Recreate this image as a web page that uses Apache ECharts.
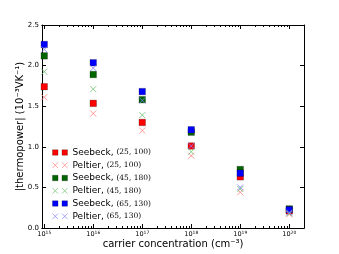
<!DOCTYPE html>
<html><head><meta charset="utf-8">
<script src="https://cdn.jsdelivr.net/npm/echarts@6/dist/echarts.min.js"></script>
<style>html,body{margin:0;padding:0;background:#fff}#c{width:339px;height:254px}</style>
</head><body><div id="c"></div>
<script>
const concentration = [1e15, 1e16, 1e17, 1e18, 1e19, 1e20];
const seebeck25 = [1.74, 1.535, 1.30, 1.01, 0.63, 0.21];
const peltier25 = [1.61, 1.41, 1.20, 0.89, 0.44, 0.17];
const seebeck45 = [2.12, 1.89, 1.58, 1.18, 0.72, 0.235];
const peltier45 = [1.925, 1.71, 1.39, 0.94, 0.48, 0.18];
const seebeck65 = [2.26, 2.035, 1.68, 1.21, 0.675, 0.225];
const peltier65 = [2.20, 1.97, 1.57, 1.01, 0.50, 0.19];
const xMajorTicks = [1e15, 1e16, 1e17, 1e18, 1e19, 1e20];
const yTicks = [0, 0.5, 1.0, 1.5, 2.0, 2.5];
const seriesNames = ['Seebeck, (25, 100)', 'Peltier, (25, 100)', 'Seebeck, (45, 180)', 'Peltier, (45, 180)', 'Seebeck, (65, 130)', 'Peltier, (65, 130)'];

const xMinorTicks = [];
for (let e = 14; e <= 20; e++) for (let m = 2; m <= 9; m++) { const v = m * Math.pow(10, e); if (v > 9e14 && v < 2e20) xMinorTicks.push(v); }

const XMIN = 9e14, XMAX = 2e20;
const font = 'DejaVu Sans';
const pair = a => concentration.map((c, i) => [c, a[i]]);

const SQ = 'path://M0,0h7v7h-7z';
const XX = 'path://M0,0L7,7M7,0L0,7';
const SQ2 = 'path://M0,0h7v7h-7zM12,0h7v7h-7z';
const XX2 = 'path://M0,0L7,7M7,0L0,7M12,0L19,7M19,0L12,7';

function sq(name, data, color) {
  return { name, type: 'scatter', data, symbol: SQ, symbolSize: 6.5, z: 3,
    itemStyle: { color, borderColor: 'rgba(0,0,0,0.35)', borderWidth: 0.7, opacity: 1 } };
}
function xx(name, data, color) {
  return { name, type: 'scatter', data, symbol: XX, symbolSize: 6, z: 4,
    itemStyle: { color: 'none', borderColor: color, borderWidth: 0.8, opacity: 1 } };
}

function xAxisBase(pos, extra) {
  return Object.assign({ type: 'log', logBase: 10, min: XMIN, max: XMAX, position: pos,
    axisLine: { show: true, onZero: false, lineStyle: { color: '#000', width: 1 } },
    splitLine: { show: false }, axisLabel: { show: false } }, extra);
}

const option = {
  animation: false,
  textStyle: { fontFamily: font },
  grid: { left: 42, right: 35, top: 25, bottom: 26, containLabel: false },
  xAxis: [
    xAxisBase('bottom', {
      name: 'carrier concentration (cm⁻³)', nameLocation: 'middle', nameGap: 11, nameMoveOverlap: false,
      nameTextStyle: { fontSize: 10, color: '#000', fontFamily: font, verticalAlign: 'top' },
      axisTick: { show: true, inside: true, length: 4, customValues: xMajorTicks, lineStyle: { color: '#000' } },
      axisLabel: { show: true, customValues: xMajorTicks, margin: 2, color: '#000',
        formatter: v => '{b|10}{s|' + Math.round(Math.log10(v)) + '}',
        rich: { b: { fontSize: 6.5, fontFamily: font, color: '#000' },
                s: { fontSize: 4.5, fontFamily: font, color: '#000', padding: [0, 0, 4, 0] } } }
    }),
    xAxisBase('bottom', { axisTick: { show: true, inside: true, length: 2, customValues: xMinorTicks, lineStyle: { color: '#000' } } }),
    xAxisBase('top', { axisTick: { show: true, inside: true, length: 4, customValues: xMajorTicks, lineStyle: { color: '#000' } } }),
    xAxisBase('top', { axisTick: { show: true, inside: true, length: 2, customValues: xMinorTicks, lineStyle: { color: '#000' } } })
  ],
  yAxis: [
    { type: 'value', min: 0, max: 2.5, interval: 0.5, position: 'left',
      name: '|thermopower| (10⁻³VK⁻¹)', nameLocation: 'middle', nameGap: 17, nameRotate: 90, nameMoveOverlap: false,
      nameTextStyle: { fontSize: 10, color: '#000', fontFamily: font, verticalAlign: 'bottom' },
      axisLine: { show: true, onZero: false, lineStyle: { color: '#000' } },
      axisTick: { show: true, inside: true, length: 4, lineStyle: { color: '#000' } },
      axisLabel: { fontSize: 7, color: '#000', margin: 3, formatter: v => v.toFixed(1) },
      splitLine: { show: false } },
    { type: 'value', min: 0, max: 2.5, interval: 0.5, position: 'right',
      axisLine: { show: true, onZero: false, lineStyle: { color: '#000' } },
      axisTick: { show: true, inside: true, length: 4, lineStyle: { color: '#000' } },
      axisLabel: { show: false }, splitLine: { show: false } }
  ],
  legend: {
    orient: 'vertical', left: 50, top: 148, itemGap: 3, itemWidth: 15, itemHeight: 6,
    padding: 0,
    itemStyle: { borderWidth: 0.7 },
    data: [
      { name: seriesNames[0], icon: SQ2 }, { name: seriesNames[1], icon: XX2 },
      { name: seriesNames[2], icon: SQ2 }, { name: seriesNames[3], icon: XX2 },
      { name: seriesNames[4], icon: SQ2 }, { name: seriesNames[5], icon: XX2 }
    ],
    formatter: n => { const k = n.indexOf('('); return '{a|' + n.slice(0, k) + '}{b|' + n.slice(k) + '}'; },
    textStyle: { lineHeight: 8, rich: {
      a: { fontSize: 9, lineHeight: 8, fontFamily: font, color: '#000' },
      b: { fontSize: 7.5, lineHeight: 8, fontFamily: 'DejaVu Serif', color: '#000' } } }
  },
  series: [
    sq(seriesNames[0], pair(seebeck25), '#ff0000'),
    xx(seriesNames[1], pair(peltier25), '#ff7f7f'),
    sq(seriesNames[2], pair(seebeck45), '#006400'),
    xx(seriesNames[3], pair(peltier45), '#6fbf6f'),
    sq(seriesNames[4], pair(seebeck65), '#0000ff'),
    xx(seriesNames[5], pair(peltier65), '#7f7fff')
  ]
};
const chart = echarts.init(document.getElementById('c'), null, { renderer: 'canvas' });
chart.setOption(option);
</script></body></html>
